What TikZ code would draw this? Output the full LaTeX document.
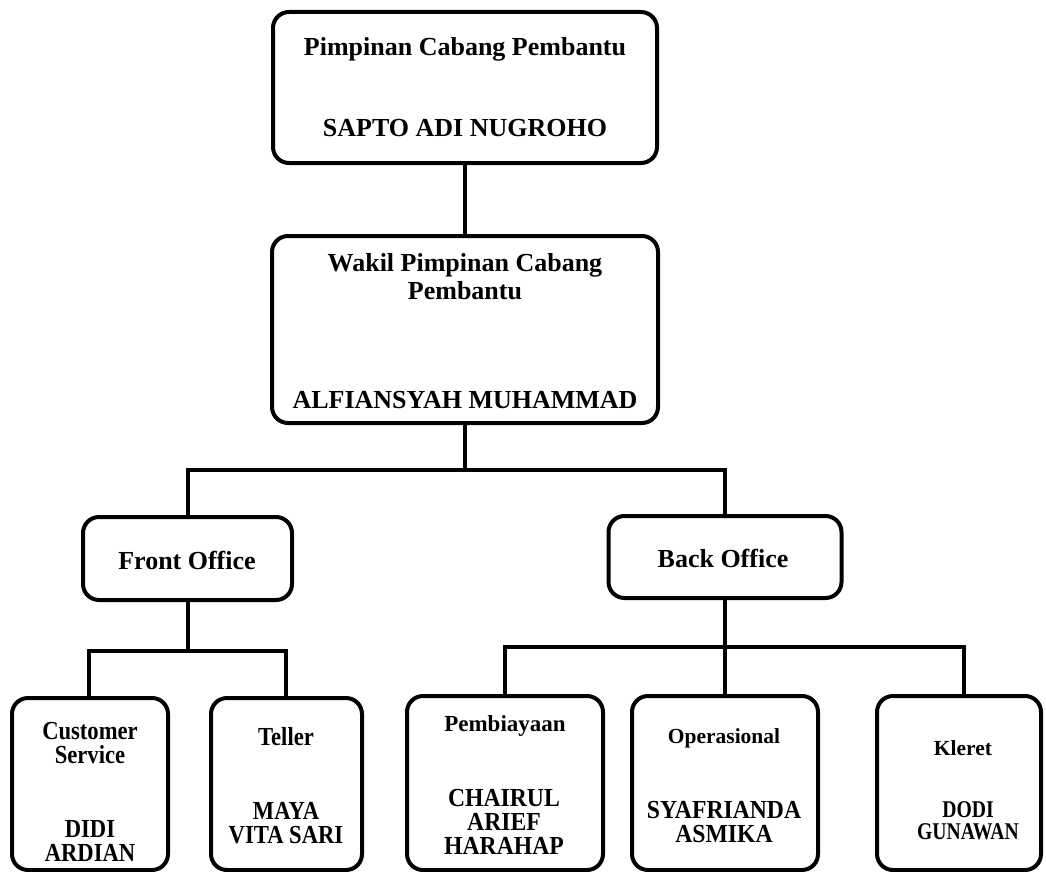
\documentclass[tikz,border=0pt]{standalone}
\usepackage{fontspec}
\setmainfont{Liberation Serif}
\newfontfamily\condf[FakeStretch=0.87]{Liberation Serif}
\newfontfamily\condh[FakeStretch=0.91]{Liberation Serif}
\newfontfamily\condg[FakeStretch=0.82]{Liberation Serif}
\begin{document}
\begin{tikzpicture}[x=1pt,y=-1pt,
  box/.style={draw=black, line width=4pt, rounded corners=16pt, fill=white, inner sep=0pt},
  conn/.style={draw=black, line width=4pt},
  big/.style={anchor=base, inner sep=0pt, font=\fontsize{26}{28}\selectfont\bfseries},
  lowt/.style={anchor=base, inner sep=0pt, font=\condf\fontsize{26}{28}\selectfont\bfseries},
  lown/.style={anchor=base, inner sep=0pt, font=\condf\fontsize{26}{28}\selectfont\bfseries},
  lownw/.style={anchor=base, inner sep=0pt, font=\condh\fontsize{26}{28}\selectfont\bfseries},
  lownb/.style={anchor=base, inner sep=0pt, font=\condg\fontsize{24}{26}\selectfont\bfseries},
  subt/.style={anchor=base, inner sep=0pt, font=\fontsize{#1}{#1}\selectfont\bfseries}
]
\fill[white] (0,0) rectangle (1046,872);
\useasboundingbox (0,0) rectangle (1046,872);

% boxes
\node[box, minimum width=384pt, minimum height=151pt] (top) at (465,87.5) {};
\node[box, minimum width=386pt, minimum height=187pt] (wakil) at (465,329.5) {};
\node[box, minimum width=209pt, minimum height=83pt] (front) at (187.5,558.5) {};
\node[box, minimum width=233pt, minimum height=82pt] (back) at (725,557) {};
\node[box, minimum width=156pt, minimum height=172pt] (cs) at (90,784) {};
\node[box, minimum width=151pt, minimum height=172pt] (teller) at (286.5,784) {};
\node[box, minimum width=196pt, minimum height=174pt] (pemb) at (505,783) {};
\node[box, minimum width=186pt, minimum height=174pt] (oper) at (725,783) {};
\node[box, minimum width=164pt, minimum height=174pt] (kleret) at (959,783) {};

% junctions
\coordinate (j1) at (465,470);
\coordinate (j2) at (187.5,651);
\coordinate (j3) at (725,647);

% connectors
\draw[conn] (top.south) -- (wakil.north);
\draw[conn] (wakil.south) -- (j1);
\draw[conn] (front.north) |- (j1) -| (back.north);
\draw[conn] (front.south) -- (j2);
\draw[conn] ([xshift=-1pt]cs.north) |- (j2) -| ([xshift=-0.5pt]teller.north);
\draw[conn] (back.south) -- (oper.north);
\draw[conn] (pemb.north) |- (j3) -| ([xshift=5pt]kleret.north);

% texts
\node[big] (t1a) at (465,56) {Pimpinan Cabang Pembantu};
\node[big] (t1b) at (465,136) {SAPTO ADI NUGROHO};
\node[big] (t2a) at (465,271.5) {Wakil Pimpinan Cabang};
\node[big] (t2b) at (465,299) {Pembantu};
\node[big] (t2c) at (465,408) {ALFIANSYAH MUHAMMAD};
\node[big] (t3) at (187,569) {Front Office};
\node[big] (t4) at (723,567) {Back Office};

\node[lowt] (t5a) at (90,739) {Customer};
\node[lowt] (t5b) at (90,763) {Service};
\node[lown] (t5c) at (90,837) {DIDI};
\node[lown] (t5d) at (90,861) {ARDIAN};

\node[lowt] (t6a) at (286,745) {Teller};
\node[lown] (t6b) at (286,819) {MAYA};
\node[lown] (t6c) at (286,843) {VITA SARI};

\node[subt=23] (t7a) at (505,731) {Pembiayaan};
\node[lownw] (t7b) at (504,806) {CHAIRUL};
\node[lownw] (t7c) at (504,830) {ARIEF};
\node[lownw] (t7d) at (504,854) {HARAHAP};

\node[subt=21.5] (t8a) at (724,743) {Operasional};
\node[lownw] (t8b) at (724,818) {SYAFRIANDA};
\node[lownw] (t8c) at (724,842) {ASMIKA};

\node[subt=21.5] (t9a) at (963,755) {Kleret};
\node[lownb] (t9b) at (968,817) {DODI};
\node[lownb] (t9c) at (968,839) {GUNAWAN};
\end{tikzpicture}
\end{document}
